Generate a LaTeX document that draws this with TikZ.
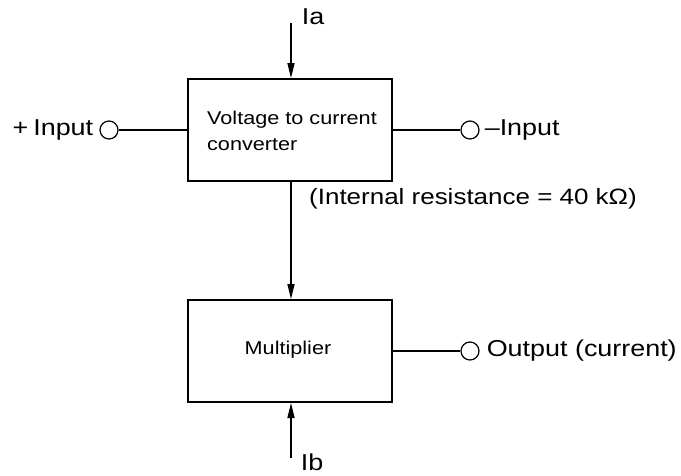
\documentclass[tikz,border=0pt]{standalone}
\usepackage{fontspec}
\setmainfont{Liberation Sans}[FakeStretch=1.17]
\usetikzlibrary{arrows.meta}
\begin{document}
\begin{tikzpicture}[x=1pt,y=-1pt,
  blk/.style={draw,line width=2pt,minimum width=204pt,minimum height=102pt,inner sep=0pt},
  wire/.style={line width=1.4pt},
  arr/.style={line width=1.4pt,-{Triangle[length=15pt,width=7pt]}},
  term/.style={draw,circle,line width=1.2pt,minimum size=18pt,inner sep=0pt},
  lab/.style={inner sep=0pt,font=\fontsize{23}{26}\selectfont},
  btxt/.style={font=\fontsize{18.5}{26}\selectfont}]
\useasboundingbox (0,0) rectangle (681,475);
\node[blk] (b1) at (290,130) {};
\node[btxt,align=left] (t1) at (292,131) {Voltage to current\\converter};
\node[blk] (b2) at (290,351) {};
\node[btxt] (t2) at (288,350) {Multiplier};
\coordinate (ia) at (291,23);
\coordinate (ib) at (291,458);
\draw[arr] (ia) -- (ia |- b1.north);
\draw[arr] (ib) -- (ib |- b2.south);
\draw[arr] (ia |- b1.south) -- (ia |- b2.north);
\node[lab] (lia) at (313,17) {Ia};
\node[lab] (lib) at (312,462) {Ib};
\node[term] (cp) at (109,130) {};
\node[term] (cm) at (470,130) {};
\node[term] (co) at (470,351) {};
\draw[wire] (cp.east) -- (b1.west);
\draw[wire] (b1.east) -- (cm.west);
\draw[wire] (b2.east) -- (co.west);
\node[lab,anchor=east] (lp) at ([xshift=-6pt]cp.west) {+\hspace{5pt}Input};
\node[lab,anchor=west] (lm) at ([xshift=5pt]cm.east) {–Input};
\node[lab,anchor=west] (lo) at ([xshift=7pt]co.east) {Output (current)};
\node[lab,anchor=west,font=\fontsize{22.2}{26}\selectfont] (lr) at (309,199) {(Internal resistance = 40 kΩ)};
\end{tikzpicture}
\end{document}
